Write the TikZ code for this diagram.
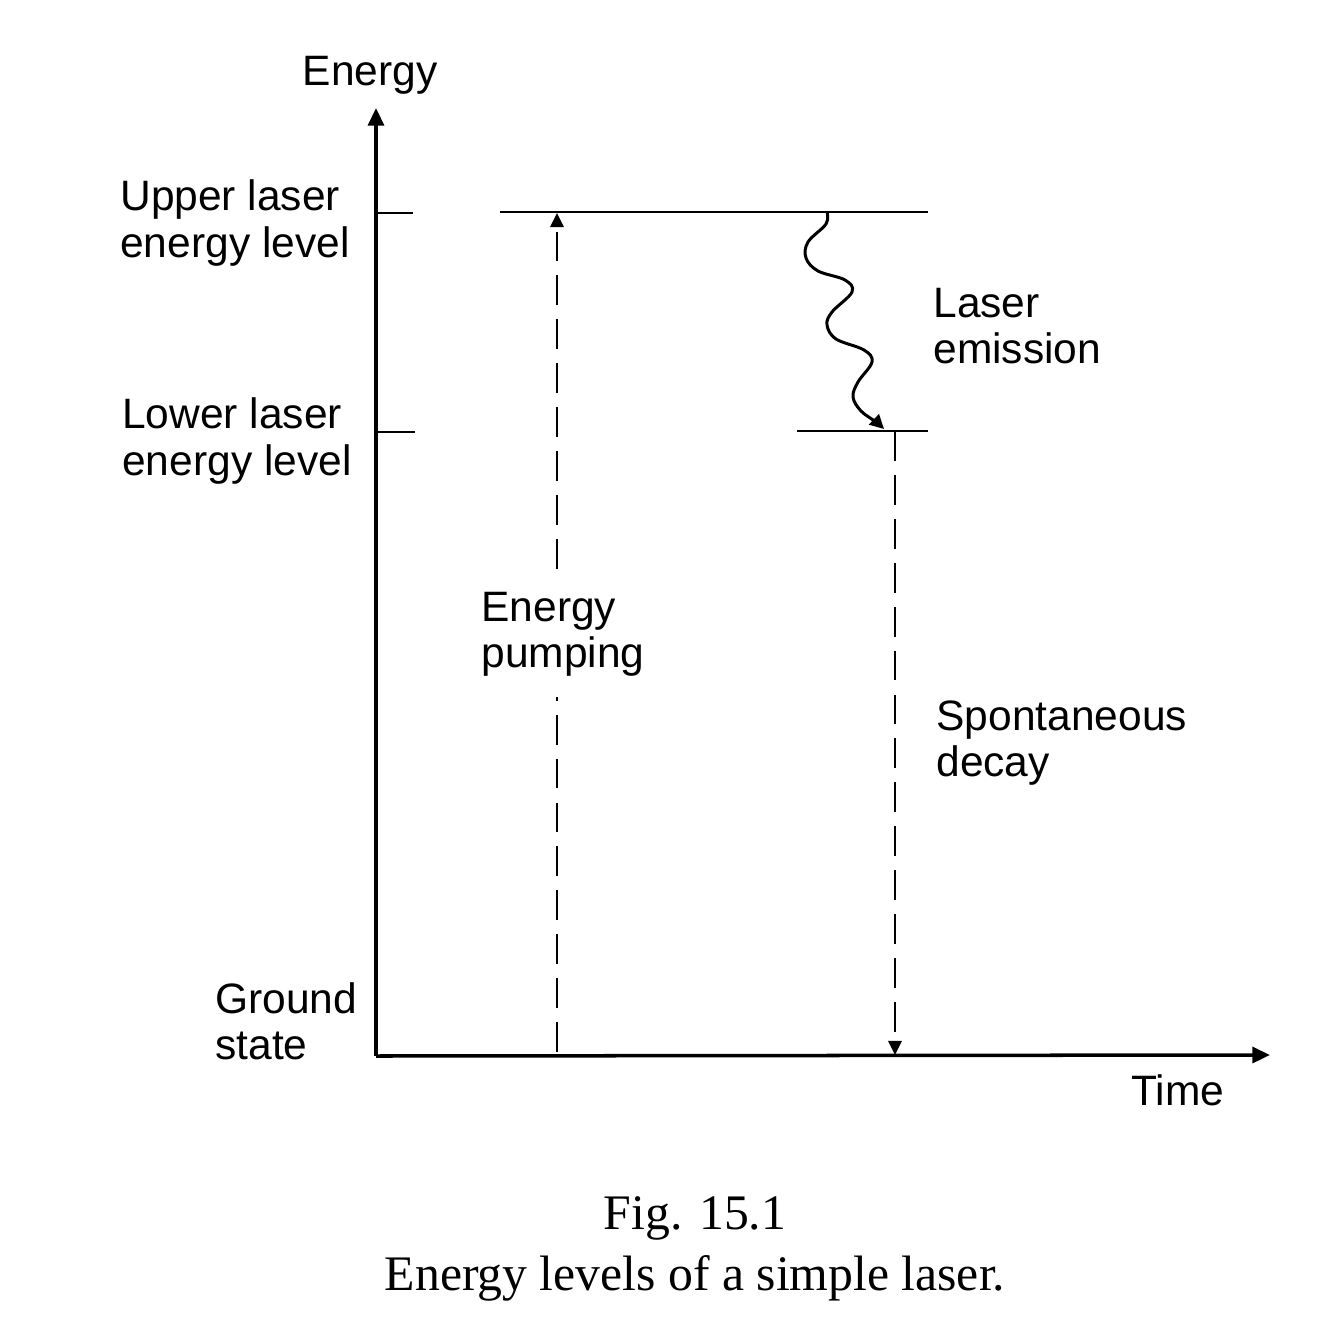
\documentclass[tikz,border=0pt]{standalone}
\usepackage{fontspec}
\setmainfont{Liberation Serif}
\newfontfamily\labelfont{Liberation Sans}
\usetikzlibrary{arrows.meta}
\tikzset{
  lbl/.style={inner sep=0pt, align=left, anchor=west, font=\labelfont\fontsize{24.2pt}{26.2pt}\selectfont},
  axisline/.style={line width=2pt, -{Triangle[length=10pt,width=9pt]}},
  levelline/.style={line width=1.5pt},
  dashedarrow/.style={line width=1.5pt, dash pattern=on 17pt off 8pt, -{Triangle[length=8pt,width=7.5pt]}},
  wavy/.style={line width=1.7pt, line join=round, -{Triangle[length=8pt,width=8pt]}},
}
\begin{document}
\begin{tikzpicture}[x=0.02cm,y=-0.02cm]
\path[use as bounding box, fill=white] (0,0) rectangle (1334,1334);
% key points
\coordinate (O) at (376,1056);
\coordinate (Ytip) at (376,108);
\coordinate (Xtip) at (1270,1055);
\coordinate (ut0) at (376,213);
\coordinate (ut1) at (413,213);
\coordinate (lt0) at (376,432);
\coordinate (lt1) at (415,432);
\coordinate (ul0) at (500,212);
\coordinate (ul1) at (928,212);
\coordinate (ll0) at (797,431);
\coordinate (ll1) at (928,431);
\coordinate (pb) at (557,1052);
\coordinate (pt) at (557,213);
\coordinate (ws) at (827,212);
\coordinate (we) at (884,429);
\coordinate (dt) at (895,431);
\coordinate (db) at (895,1055);
% axes
\draw[axisline] (O) -- (Ytip);
\draw[axisline] (O) -- (Xtip);
% ticks and levels
\draw[levelline] (ut0) -- (ut1);
\draw[levelline] (lt0) -- (lt1);
\draw[levelline] (ul0) -- (ul1);
\draw[levelline] (ll0) -- (ll1);
% transitions
\draw[dashedarrow] (pb) -- (pt);
\draw[wavy] plot[smooth, tension=0.6] coordinates {(ws) (826,224) (808,242) (806,258) (818,271) (845,280) (852,292) (832,312) (827,325) (836,339) (864,350) (872,362) (858,382) (853,397) (861,411) (876,422) (we)};
\draw[dashedarrow] (dt) -- (db);
% labels
\node[lbl, anchor=center] (energy) at (370,75) {Energy};
\node[lbl] (upper) at (120,223) {Upper laser\\energy level};
\node[lbl] (lower) at (122,441) {Lower laser\\energy level};
\node[lbl] (ground) at (215,1021) {Ground\\state};
\node[lbl] (emission) at (933,326) {Laser\\emission};
\node[lbl, fill=white, inner ysep=12pt] (pumping) at (481,634) {Energy\\pumping};
\node[lbl] (decay) at (936,743) {Spontaneous\\decay};
\node[lbl, anchor=center] (time) at (1178,1090) {Time};
\node[inner sep=0pt, align=center, font=\fontsize{28.3pt}{34.5pt}\selectfont] (caption) at (695,1249) {Fig. 15.1\\Energy levels of a simple laser.};
\end{tikzpicture}
\end{document}
